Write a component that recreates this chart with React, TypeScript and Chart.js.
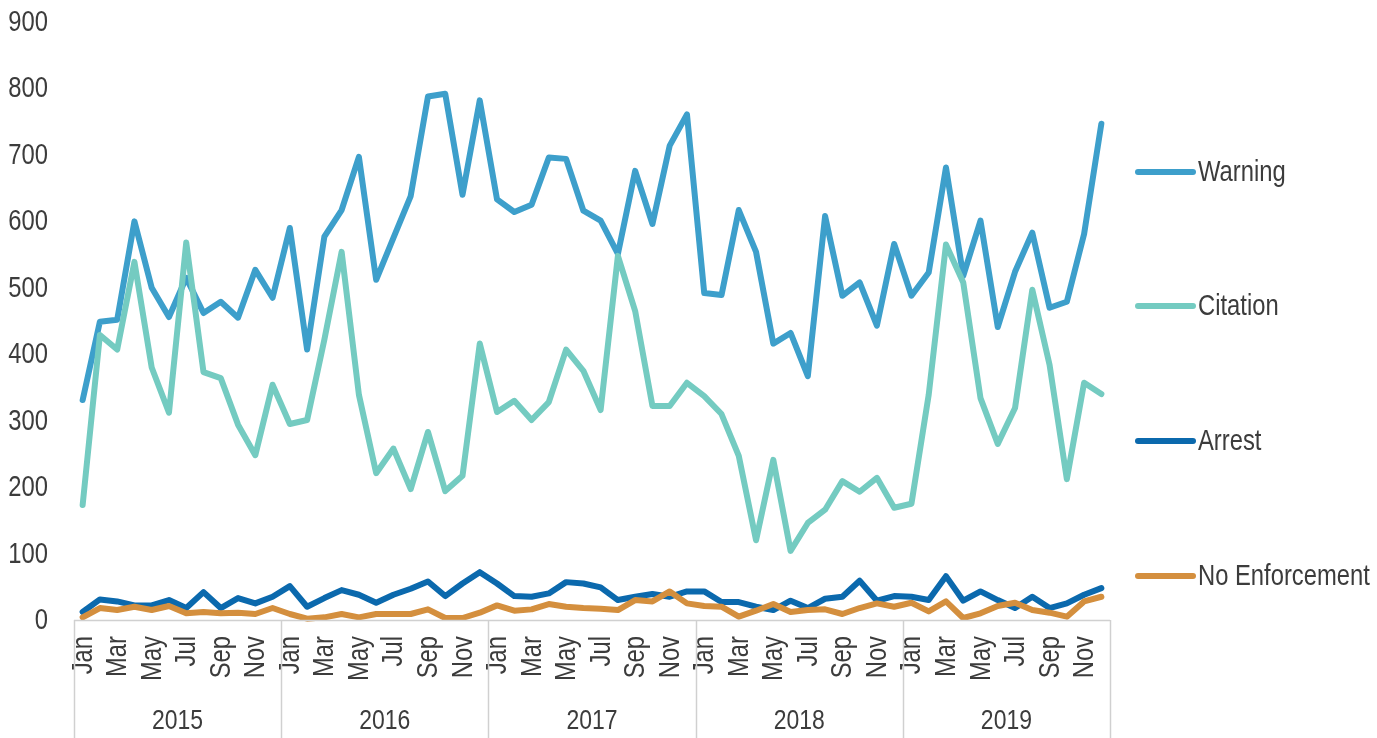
import React, { useEffect, useRef } from "react";
import { Chart, registerables } from "chart.js";

Chart.register(...registerables);

const years = ["2015", "2016", "2017", "2018", "2019"];
const monthNames = ["Jan", "Feb", "Mar", "Apr", "May", "Jun", "Jul", "Aug", "Sep", "Oct", "Nov", "Dec"];
const labels: string[] = years.flatMap(() => monthNames);

const warning = [
  331, 449, 452, 600, 500, 456, 515, 462, 479, 455, 527, 485,
  590, 407, 577, 617, 697, 512, 575, 638, 788, 792, 640, 782,
  633, 614, 625, 696, 694, 616, 601, 551, 676, 596, 714, 761,
  492, 489, 617, 554, 416, 432, 367, 608, 488, 508, 443, 566,
  488, 523, 681, 518, 601, 441, 524, 583, 470, 479, 581, 747,
];
const citation = [
  173, 429, 407, 539, 380, 312, 568, 373, 364, 294, 248, 354,
  295, 301, 422, 554, 339, 221, 258, 197, 283, 194, 217, 416,
  313, 330, 301, 328, 407, 375, 316, 548, 465, 322, 322, 357,
  337, 310, 247, 120, 241, 104, 146, 166, 209, 193, 214, 169,
  175, 339, 565, 508, 334, 265, 319, 497, 384, 212, 357, 340,
];
const arrest = [
  12, 31, 28, 22, 22, 30, 18, 42, 18, 33, 25, 35,
  51, 20, 33, 45, 38, 26, 38, 47, 58, 36, 55, 72,
  55, 36, 35, 40, 57, 55, 49, 30, 35, 39, 35, 43,
  43, 27, 27, 20, 15, 29, 18, 32, 35, 59, 29, 36,
  35, 30, 66, 29, 43, 30, 18, 35, 18, 25, 38, 48,
];
const noEnforcement = [
  4, 18, 15, 20, 15, 21, 10, 12, 10, 11, 9, 18,
  9, 2, 4, 9, 4, 9, 9, 9, 16, 3, 3, 11,
  22, 14, 16, 24, 20, 18, 17, 15, 30, 28, 43, 25,
  21, 20, 5, 14, 24, 12, 15, 16, 9, 18, 25, 20,
  26, 13, 28, 3, 10, 21, 26, 15, 11, 5, 28, 35,
];

const seriesNames = ["Warning", "Citation", "Arrest", "No Enforcement"];
const seriesColors = ["#3d9fcb", "#74cbc1", "#0b69ad", "#d48f3e"];
const yTicks = [0, 100, 200, 300, 400, 500, 600, 700, 800, 900];

const FONT = "'Liberation Sans', Arial, sans-serif";
const TEXT = "#3c3c3c";
const NARROW = 0.82;

function narrowText(
  ctx: CanvasRenderingContext2D,
  text: string,
  x: number,
  y: number,
  size: number,
  align: CanvasTextAlign,
  rotate = 0
) {
  ctx.save();
  ctx.translate(x, y);
  if (rotate) ctx.rotate(rotate);
  ctx.scale(NARROW, 1);
  ctx.font = `${size}px ${FONT}`;
  ctx.fillStyle = TEXT;
  ctx.textAlign = align;
  ctx.textBaseline = "middle";
  ctx.fillText(text, 0, 0);
  ctx.restore();
}

const decorPlugin = {
  id: "decor",
  afterDraw(chart: any) {
    const ctx = chart.ctx;
    const x = chart.scales.x;
    const y = chart.scales.y;
    const area = chart.chartArea;
    const step = x.getPixelForValue(1) - x.getPixelForValue(0);
    ctx.save();
    // y tick labels
    yTicks.forEach((v) => {
      narrowText(ctx, String(v), 48, y.getPixelForValue(v) + 1, 29, "right");
    });
    // x tick labels (every other month)
    labels.forEach((lab, i) => {
      if (i % 2 !== 0) return;
      narrowText(ctx, lab, x.getPixelForValue(i) + 1, area.bottom + 16, 29, "right", -Math.PI / 2);
    });
    // axis box
    ctx.strokeStyle = "#d0d0d0";
    ctx.lineWidth = 1.5;
    ctx.beginPath();
    ctx.moveTo(area.left, area.bottom + 0.5);
    ctx.lineTo(area.right, area.bottom + 0.5);
    ctx.stroke();
    for (let i = 0; i <= years.length; i++) {
      const bx = Math.round(x.getPixelForValue(i * 12) - step / 2) + 0.5;
      ctx.beginPath();
      ctx.moveTo(bx, area.bottom);
      ctx.lineTo(bx, chart.height);
      ctx.stroke();
    }
    // year labels
    years.forEach((yr, i) => {
      const a = x.getPixelForValue(i * 12) - step / 2;
      const b = x.getPixelForValue(i * 12 + 11) + step / 2;
      narrowText(ctx, yr, (a + b) / 2, 721, 28, "center");
    });
    // legend
    const legendY = [172, 306, 441, 576];
    chart.data.datasets.forEach((ds: any, i: number) => {
      const ly = legendY[i];
      ctx.strokeStyle = ds.borderColor;
      ctx.lineWidth = 6;
      ctx.lineCap = "round";
      ctx.beginPath();
      ctx.moveTo(1138, ly);
      ctx.lineTo(1193, ly);
      ctx.stroke();
      narrowText(ctx, ds.label, 1198, ly + 1, 29, "left");
    });
    ctx.restore();
  },
};

export default function App() {
  const canvasRef = useRef<HTMLCanvasElement | null>(null);

  useEffect(() => {
    if (!canvasRef.current) return;
    const data = [warning, citation, arrest, noEnforcement];
    const chart = new Chart(canvasRef.current, {
      type: "line",
      data: {
        labels,
        datasets: data.map((d, i) => ({
          label: seriesNames[i],
          data: d,
          borderColor: seriesColors[i],
          backgroundColor: seriesColors[i],
          borderWidth: 6,
          pointRadius: 0,
          tension: 0,
          borderJoinStyle: "round" as const,
          borderCapStyle: "round" as const,
          clip: false as any,
          order: 4 - i,
        })),
      },
      options: {
        animation: false,
        responsive: true,
        maintainAspectRatio: false,
        layout: { padding: { top: 22, right: 267, left: 0, bottom: 0 } },
        plugins: {
          legend: { display: false },
          tooltip: { enabled: false },
        },
        scales: {
          x: {
            type: "category",
            offset: true,
            grid: { display: false, drawTicks: false },
            border: { display: false },
            ticks: { display: false },
            afterFit: (scale: any) => {
              scale.height = 118;
            },
          },
          y: {
            min: 0,
            max: 900,
            grid: { display: false, drawTicks: false },
            border: { display: false },
            ticks: { display: false, stepSize: 100 },
            afterFit: (scale: any) => {
              scale.width = 74;
            },
          },
        },
      },
      plugins: [decorPlugin],
    });
    return () => chart.destroy();
  }, []);

  return (
    <div style={{ position: "absolute", left: 0, top: 0, width: 1377, height: 738, background: "#fff" }}>
      <canvas ref={canvasRef} />
    </div>
  );
}
